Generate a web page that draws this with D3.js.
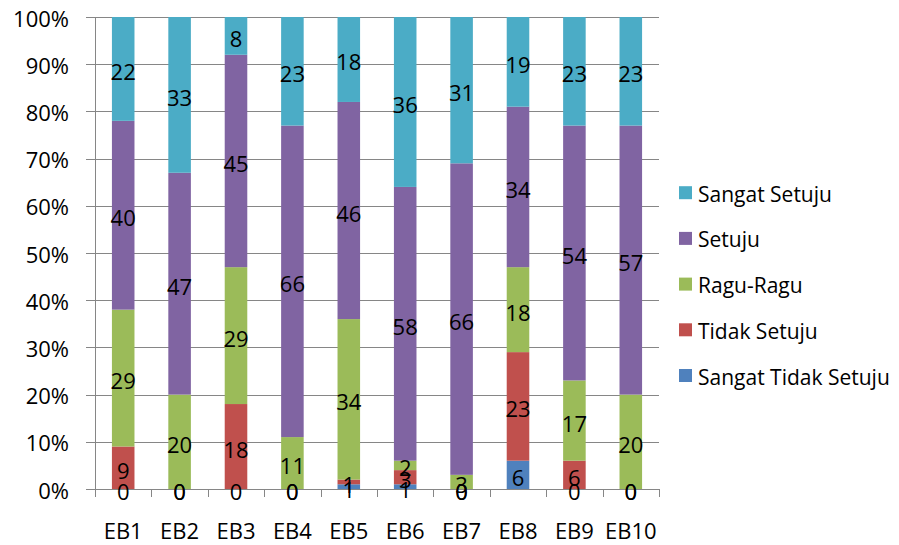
<!DOCTYPE html>
<html>
<head>
<meta charset="utf-8">
<script src="https://cdn.jsdelivr.net/npm/d3@7"></script>
<style>
  html, body { margin: 0; padding: 0; background: #ffffff; }
  svg { display: block; font-family: "Open Sans", sans-serif; }
</style>
</head>
<body>
<svg id="chart" width="899" height="545"></svg>
<script>
const categories = ["EB1", "EB2", "EB3", "EB4", "EB5", "EB6", "EB7", "EB8", "EB9", "EB10"];
const seriesNames = ["Sangat Tidak Setuju", "Tidak Setuju", "Ragu-Ragu", "Setuju", "Sangat Setuju"];
const sangatTidakSetuju = [0, 0, 0, 0, 1, 1, 0, 6, 0, 0];
const tidakSetuju       = [9, 0, 18, 0, 1, 3, 0, 23, 6, 0];
const raguRagu          = [29, 20, 29, 11, 34, 2, 3, 18, 17, 20];
const setuju            = [40, 47, 45, 66, 46, 58, 66, 34, 54, 57];
const sangatSetuju      = [22, 33, 8, 23, 18, 36, 31, 19, 23, 23];
const yTickValues = [0, 0.1, 0.2, 0.3, 0.4, 0.5, 0.6, 0.7, 0.8, 0.9, 1];
const yTickLabels = ["0%", "10%", "20%", "30%", "40%", "50%", "60%", "70%", "80%", "90%", "100%"];
const colors = ["#4F81BD", "#C0504D", "#9BBB59", "#8064A2", "#4BACC6"];

const seriesValues = [sangatTidakSetuju, tidakSetuju, raguRagu, setuju, sangatSetuju];
const rows = categories.map((c, i) => {
  const r = { cat: c };
  seriesNames.forEach((s, k) => r[s] = seriesValues[k][i]);
  return r;
});

const svg = d3.select("#chart");
const plotLeft = 95, plotRight = 659, plotTop = 17, plotBottom = 489;

const x = d3.scaleBand().domain(categories).range([plotLeft, plotRight]).paddingInner(0.6).paddingOuter(0.3);
const xEdge = d3.scaleLinear().domain([0, categories.length]).range([plotLeft, plotRight]);
const y = d3.scaleLinear().domain([0, 1]).range([plotBottom, plotTop]);

const stack = d3.stack().keys(seriesNames).offset(d3.stackOffsetExpand);
const stacked = stack(rows);

// gridlines
svg.append("g").selectAll("line").data(yTickValues).join("line")
  .attr("x1", plotLeft - 9).attr("x2", plotRight)
  .attr("y1", d => Math.round(y(d)) + 0.5).attr("y2", d => Math.round(y(d)) + 0.5)
  .attr("stroke", "#868686").attr("stroke-width", 1);

// y axis line
svg.append("line")
  .attr("x1", plotLeft + 0.5).attr("x2", plotLeft + 0.5)
  .attr("y1", plotTop).attr("y2", plotBottom)
  .attr("stroke", "#868686");

// x tick marks
svg.append("g").selectAll("line").data(d3.range(categories.length + 1)).join("line")
  .attr("x1", d => Math.round(xEdge(d)) + 0.5).attr("x2", d => Math.round(xEdge(d)) + 0.5)
  .attr("y1", plotBottom).attr("y2", plotBottom + 8)
  .attr("stroke", "#868686");

// y tick labels
svg.append("g").selectAll("text").data(yTickValues).join("text")
  .attr("x", 69).attr("y", d => y(d) + 9.5)
  .attr("text-anchor", "end")
  .attr("font-size", 22).attr("fill", "#000")
  .text((d, i) => yTickLabels[i]);

// x labels
svg.append("g").selectAll("text").data(categories).join("text")
  .attr("x", d => x(d) + x.bandwidth() / 2).attr("y", 539)
  .attr("text-anchor", "middle")
  .attr("font-size", 22).attr("fill", "#000")
  .text(d => d);

// bars
const layers = svg.append("g").selectAll("g").data(stacked).join("g")
  .attr("fill", (d, i) => colors[i]);
layers.selectAll("rect").data(d => d).join("rect")
  .attr("x", d => x(d.data.cat))
  .attr("width", x.bandwidth())
  .attr("y", d => y(d[1]))
  .attr("height", d => y(d[0]) - y(d[1]));

// data labels
const labelG = svg.append("g");
stacked.forEach((layer, k) => {
  labelG.append("g").selectAll("text").data(layer).join("text")
    .attr("x", d => x(d.data.cat) + x.bandwidth() / 2)
    .attr("y", d => y((d[0] + d[1]) / 2) + 11)
    .attr("text-anchor", "middle")
    .attr("font-size", 22).attr("fill", "#000")
    .text(d => d.data[layer.key]);
});

// legend
const legendOrder = seriesNames.map((s, i) => ({ name: s, color: colors[i] })).reverse();
const lg = svg.append("g").selectAll("g").data(legendOrder).join("g")
  .attr("transform", (d, i) => `translate(0, ${201.7 + i * 45.7})`);
lg.append("rect").attr("x", 679).attr("y", -15.5).attr("width", 13).attr("height", 13)
  .attr("fill", d => d.color);
lg.append("text").attr("x", 698).attr("y", 0)
  .attr("font-size", 21).attr("fill", "#000")
  .text(d => d.name);
</script>
</body>
</html>
